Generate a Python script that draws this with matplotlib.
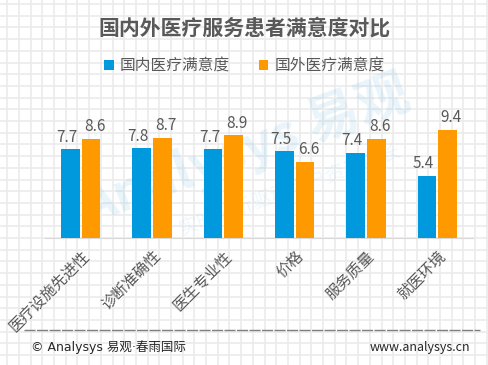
import numpy as np
import matplotlib.pyplot as plt

plt.rcParams['font.family'] = ['Noto Sans CJK SC', 'DejaVu Sans']

# Data
categories = ['医疗设施先进性', '诊断准确性', '医生专业性', '价格', '服务质量', '就医环境']
domestic = [7.7, 7.8, 7.7, 7.5, 7.4, 5.4]
foreign = [8.6, 8.7, 8.9, 6.6, 8.6, 9.4]
series_names = ['国内医疗满意度', '国外医疗满意度']

blue = '#0099DD'
orange = '#FF9900'
text_grey = '#595959'

W, H = 489, 365
fig = plt.figure(figsize=(W / 100, H / 100), dpi=100)

# Background grid paper
bg = fig.add_axes([0, 0, 1, 1])
bg.set_xlim(0, W)
bg.set_ylim(H, 0)
bg.axis('off')
step = 11.7
for gx in np.arange(7.2, W, step):
    bg.axvline(gx, color='#EBEBEB', lw=1.2, zorder=0)
for gy in np.arange(4.0, H, step):
    bg.axhline(gy, color='#EBEBEB', lw=1.2, zorder=0)

# Watermark
bg.text(245, 150, 'Analysys 易观', fontsize=38, color='#5AB4E6', alpha=0.13,
        rotation=20, ha='center', va='center', fontweight='bold', zorder=1)
bg.text(290, 190, '实时分析驱动用户资产成长', fontsize=14, color='#5AB4E6', alpha=0.1,
        rotation=20, ha='center', va='center', zorder=1)

# Main chart axes (pixel placement)
left, right, bottom, top = 45, 473, 237.7, 99.7
ax = fig.add_axes([left / W, 1 - bottom / H, (right - left) / W, (bottom - top) / H])
ax.patch.set_alpha(0)
x = np.arange(len(categories))
bw = 0.26
gap = 0.015
b1 = ax.bar(x - bw / 2 - gap, domestic, bw, color=blue, label=series_names[0], zorder=3)
b2 = ax.bar(x + bw / 2 + gap, foreign, bw, color=orange, label=series_names[1], zorder=3)
for rect, v in zip(b1, domestic):
    ax.text(rect.get_x() + rect.get_width() / 2 - 0.05, v + 0.3, f'{v:.1f}',
            ha='center', va='bottom', fontsize=11, color=text_grey)
for rect, v in zip(b2, foreign):
    ax.text(rect.get_x() + rect.get_width() / 2 + 0.05, v + 0.3, f'{v:.1f}',
            ha='center', va='bottom', fontsize=11, color=text_grey)

ax.set_xlim(-0.5, len(categories) - 0.5)
ax.set_ylim(0, 12)
ax.set_yticks([])
ax.set_xticks(x)
ax.set_xticklabels(categories, rotation=45, ha='right', rotation_mode='anchor',
                   fontsize=11, color=text_grey)
ax.tick_params(axis='x', length=0, pad=7)
for s in ['top', 'right', 'left']:
    ax.spines[s].set_visible(False)
ax.spines['bottom'].set_color('#D9D9D9')

# Title and legend
fig.text(0.5, 1 - 28 / H, '国内外医疗服务患者满意度对比', ha='center', va='center',
         fontsize=15, fontweight='bold', color=text_grey)
fig.legend(handles=[b1, b2], labels=series_names, loc='center',
           bbox_to_anchor=(0.5, 1 - 66 / H), ncol=2, frameon=False,
           fontsize=11.3, handlelength=0.6, handleheight=0.6, columnspacing=1.8,
           handletextpad=0.4, labelcolor=text_grey)

# Footer
bg.plot([24, 480], [330, 330], color='#7F7F7F', lw=1, ls=(0, (8, 1)), zorder=2)
bg.text(31, 347, '© Analysys 易观·春雨国际', fontsize=9, color='#262626', va='center', ha='left',
        family=['DejaVu Sans', 'Noto Sans CJK SC'])
bg.text(470, 347, 'www.analysys.cn', fontsize=9, color='#262626', va='center', ha='right')

fig.savefig('out.png', dpi=100)
